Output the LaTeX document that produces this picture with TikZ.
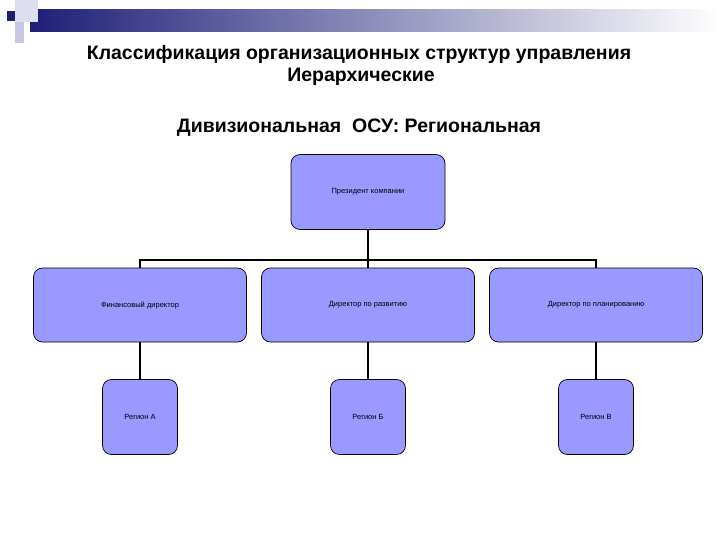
\documentclass[tikz,border=0pt]{standalone}
\usepackage{fontspec}
\setmainfont{Liberation Sans}
\begin{document}
\begin{tikzpicture}[x=1pt,y=-1pt,
 box/.style={draw=black,fill=boxfill,rounded corners=9pt,line width=0.7pt,font=\fontsize{7.5}{9}\selectfont,inner sep=0pt},
 conn/.style={line width=2.5pt},
 ttl/.style={font=\bfseries\fontsize{19.5}{22}\selectfont}]
\definecolor{boxfill}{RGB}{153,153,255}
\definecolor{dblue}{RGB}{30,30,120}
\definecolor{lav}{RGB}{200,200,230}
\useasboundingbox (0,0) rectangle (720,540);
\fill[left color=dblue,right color=white] (30,10) rectangle (720,32);
\fill[lav!60] (15,0) rectangle (38,22);
\fill[lav] (15,22) rectangle (24,43);
\fill[dblue] (7,11) rectangle (15,21);
\node[ttl] (t1) at (359,54) {Классификация организационных структур управления};
\node[ttl] (t2) at (361,77) {Иерархические};
\node[ttl] (t3) at (359,128) {Дивизиональная\ \ ОСУ: Региональная};
\node[box,minimum width=154pt,minimum height=75pt] (p) at (368,192) {Президент компании};
\foreach \n/\x/\t in {a/140/Финансовый директор,b/368/Директор по развитию,c/596/Директор по планированию}
  \node[box,minimum width=213pt,minimum height=74pt] (\n) at (\x,305) {\t};
\foreach \n/\x/\t in {ra/140/Регион А,rb/368/Регион Б,rc/596/Регион В}
  \node[box,minimum width=75pt,minimum height=75pt] (\n) at (\x,417) {\t};
\coordinate (j) at (368,260);
\draw[conn] (p.south) -- (j);
\draw[conn] (a.north) |- (j) -| (c.north);
\draw[conn] (b.north) -- (j);
\foreach \u/\v in {a/ra,b/rb,c/rc} \draw[conn] (\u.south) -- (\v.north);
\end{tikzpicture}
\end{document}
